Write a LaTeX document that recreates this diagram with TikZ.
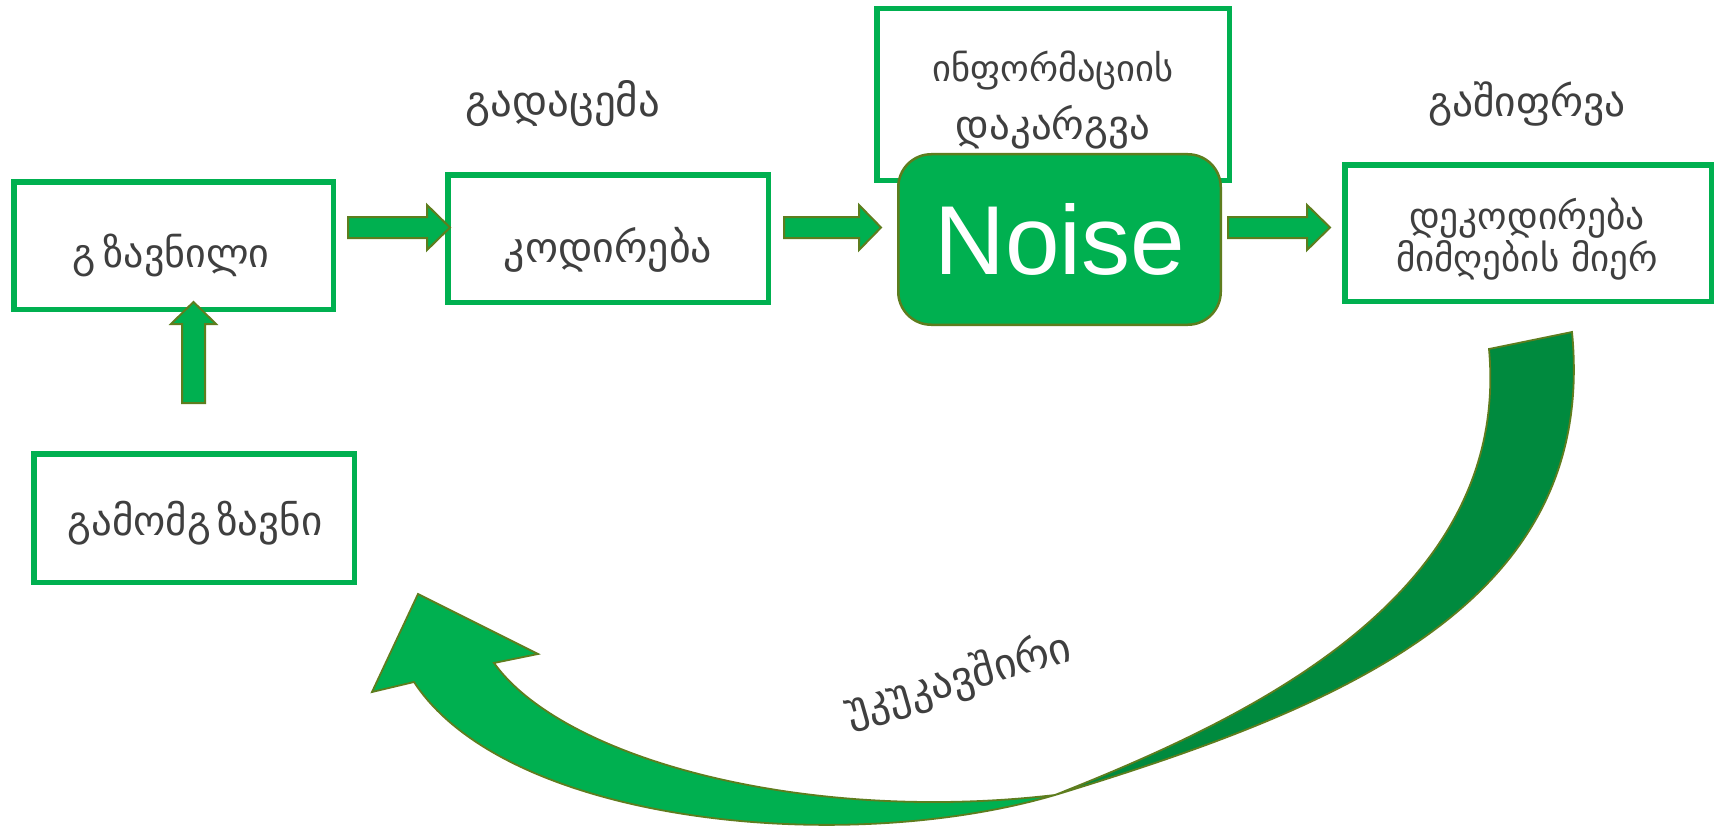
\documentclass[tikz,border=0pt]{standalone}
\usepackage{fontspec}
\setmainfont{DejaVu Sans}
\newfontfamily\geofont{DejaVu Sans}
\newfontfamily\arialfont{Liberation Sans}
\definecolor{boxgreen}{HTML}{00B050}
\definecolor{backgreen}{HTML}{008A3E}
\definecolor{olivel}{HTML}{5E7D1E}
\definecolor{txtgray}{HTML}{3F3F3F}
\newcommand{\geosize}[1]{\geofont\fontsize{#1}{#1}\selectfont}
\begin{document}
\begin{tikzpicture}[x=1pt,y=-1pt,
  gbox/.style={draw=boxgreen, line width=5.5pt, fill=white, inner sep=0pt},
  lbl/.style={font=\geosize{41}, text=txtgray, inner sep=0pt, anchor=base},
  barrow/.style={fill=boxgreen, draw=olivel, line width=2pt, line join=miter},
  band/.style={draw=olivel, line width=1.8pt, line join=miter}
]
\useasboundingbox (0,0) rectangle (1716,832);
\fill[white] (0,0) rectangle (1716,832);

% boxes
\node[gbox, minimum width=319.5pt, minimum height=127.5pt] (gz) at (173.5,245.5) {};
\node[gbox, minimum width=320.5pt, minimum height=127.5pt] (kod) at (608,238.5) {};
\node[gbox, minimum width=352.5pt, minimum height=171.5pt] (info) at (1053,94.5) {};
\node[fill=boxgreen, draw=olivel, line width=2.5pt, rounded corners=33pt, minimum width=322.5pt, minimum height=170.5pt, inner sep=0pt] (noise) at (1059.5,239.5) {};
\node[gbox, minimum width=366.5pt, minimum height=136.5pt] (dec) at (1528,233) {};
\node[gbox, minimum width=320.5pt, minimum height=128.5pt] (gam) at (194,518) {};

% texts
\node[lbl, font=\geosize{40}] (tgz) at (171,267) {\spaceskip=0.2em გ ზავნილი};
\node[lbl, font=\geosize{43}] (tgad) at (563,117) {გადაცემა};
\node[lbl, font=\geosize{42}] (tkod) at (608,262) {კოდირება};
\node[lbl, font=\geosize{36.5}] (tinfa) at (1053,82) {ინფორმაციის};
\node[lbl, font=\geosize{41}] (tinfb) at (1053,140) {დაკარგვა};
\node[font=\arialfont\fontsize{98}{100}\selectfont, text=white, inner sep=0pt] (tnoise) at (1060,239) {Noise};
\node[lbl, font=\geosize{41.5}] (tgash) at (1527,117) {გაშიფრვა};
\node[lbl, font=\geosize{37.5}] (tdeca) at (1527,229) {დეკოდირება};
\node[lbl, font=\geosize{37}] (tdecb) at (1527,271) {მიმღების მიერ};
\node[lbl, font=\geosize{41}] (tgam) at (195,535) {\spaceskip=0.15em გამომგ ზავნი};
\node[lbl, font=\geosize{43}, anchor=center, rotate=16] (tfb) at (958,680) {უკუკავშირი};

% block arrows (horizontal)
\draw[barrow] (348,217) -- (427,217) -- (427,205) -- (450,227.5) -- (427,250) -- (427,238) -- (348,238) -- cycle;
\draw[barrow] (784,217) -- (859,217) -- (859,205) -- (881,227.5) -- (859,250) -- (859,238) -- (784,238) -- cycle;
\draw[barrow] (1228,217) -- (1307,217) -- (1307,205) -- (1330,227.5) -- (1307,250) -- (1307,238) -- (1228,238) -- cycle;
% up arrow
\draw[barrow] (182,403) -- (182,324) -- (171,324) -- (193.5,302) -- (216,324) -- (205,324) -- (205,403) -- cycle;

% curved feedback arrow: front (light) part with head
\coordinate (cross) at (1055,795);
\coordinate (neckin) at (494,663);
\coordinate (neckout) at (414,682);
\draw[band, fill=boxgreen]
  (cross) .. controls (844,857) and (507,824) .. (neckout)
  -- (372,692) -- (418,594) -- (538,654) -- (neckin)
  .. controls (564,760) and (807,824) .. (cross) -- cycle;
% back (dark) part
\coordinate (topin) at (1489,349);
\coordinate (topout) at (1572,332);
\draw[band, fill=backgreen]
  (topin) -- (topout)
  .. controls (1598,600) and (1350,705) .. (cross)
  .. controls (1241,721) and (1511.5,599) .. (topin) -- cycle;
\end{tikzpicture}
\end{document}
